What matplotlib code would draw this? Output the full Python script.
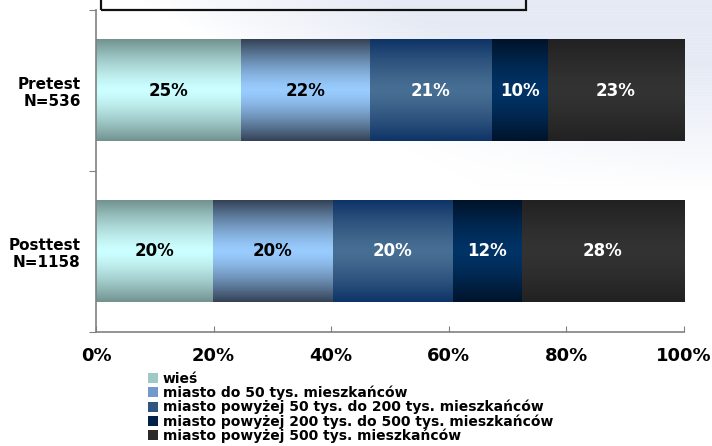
import numpy as np
import matplotlib
matplotlib.use("Agg")
import matplotlib.pyplot as plt
from matplotlib.colors import to_rgb
from matplotlib.patches import Rectangle, Patch

# Data
groups = ["Posttest\nN=1158", "Pretest\nN=536"]
series = [
    "wieś",
    "miasto do 50 tys. mieszkańców",
    "miasto powyżej 50 tys. do 200 tys. mieszkańców",
    "miasto powyżej 200 tys. do 500 tys. mieszkańców",
    "miasto powyżej 500 tys. mieszkańców",
]
posttest = [19.9, 20.4, 20.4, 11.7, 27.6]
pretest = [24.7, 21.9, 20.7, 9.5, 23.2]
xticks = [0, 20, 40, 60, 80, 100]
xticklabels = ["0%", "20%", "40%", "60%", "80%", "100%"]

# Styling: gradient colours for each series (edge -> centre)
edge_colors = ["#729390", "#344256", "#0e3366", "#00132a", "#212121"]
center_colors = ["#ccffff", "#99ccff", "#476e93", "#003366", "#333333"]
label_colors = ["black", "black", "white", "white", "white"]
legend_colors = ["#9fc9c6", "#6f9acb", "#2d5580", "#002248", "#2a2a2a"]

W, H = 712, 446
fig = plt.figure(figsize=(W / 100, H / 100), dpi=100)
fig.patch.set_facecolor("white")

# Soft background swoosh
bg = fig.add_axes([0, 0, 1, 1], zorder=-5)
bg.set_axis_off()
yy, xx = np.mgrid[0:H, 0:W].astype(float)
d = (xx - 230) * 0.55 - (yy - 50) * 1.0
band = np.clip(d / 140.0, 0, 1) * np.clip((190 - yy) / 130.0, 0, 1)
band = np.clip(band, 0, 1) ** 0.9
stripes = 0.9 + 0.1 * (np.sin(yy * 2.2) > 0)
tint = np.array(to_rgb("#e4e9f4"))
img = np.ones((H, W, 3)) - (band * stripes)[..., None] * (1 - tint)[None, None, :]
bg.imshow(img, extent=(0, 1, 0, 1), aspect="auto", origin="upper",
          transform=fig.transFigure, interpolation="bilinear")

# Title frame peeking from the top
fig.patches.append(Rectangle((101 / W, 1 - 10 / H), (526 - 101) / W, 0.05,
                             transform=fig.transFigure, fill=False,
                             edgecolor="#111111", linewidth=1.6, zorder=5))

ax = fig.add_axes([96 / W, 1 - 332 / H, (684 - 96) / W, (332 - 10) / H])
ax.set_facecolor("none")

values = np.array([posttest, pretest])
ypos = np.arange(len(groups))
bar_h = 0.63


def gradient_image(edge, centre, n=128):
    t = np.abs(np.linspace(-1, 1, n))
    t = t ** 1.4
    e = np.array(to_rgb(edge))
    c = np.array(to_rgb(centre))
    col = c[None, :] + (e - c)[None, :] * t[:, None]
    return col[:, None, :]


left = np.zeros(len(groups))
for i, name in enumerate(series):
    vals = values[:, i]
    bars = ax.barh(ypos, vals, left=left, height=bar_h, color="none",
                   edgecolor="none", label=name)
    grad = gradient_image(edge_colors[i], center_colors[i])
    for b, v in zip(bars, vals):
        x0, y0 = b.get_x(), b.get_y()
        ax.imshow(grad, extent=(x0, x0 + b.get_width(), y0, y0 + b.get_height()),
                  aspect="auto", origin="lower", zorder=2, interpolation="bilinear")
        ax.text(x0 + b.get_width() / 2, y0 + b.get_height() / 2, f"{round(v):.0f}%",
                ha="center", va="center", fontsize=12, fontweight="bold",
                color=label_colors[i], zorder=3)
    left = left + vals

ax.set_xlim(0, 100)
ax.set_ylim(-0.5, len(groups) - 0.5)

ax.set_xticks(xticks)
ax.set_xticklabels(xticklabels, fontsize=13, fontweight="bold")
ax.tick_params(axis="x", direction="in", length=4, color="#808080", pad=11)

ax.set_yticks([-0.5, 0.5, 1.5])
ax.set_yticklabels([])
ax.tick_params(axis="y", which="major", direction="out", length=5, color="#808080")
ax.set_yticks(ypos, minor=True)
ax.set_yticklabels(groups, minor=True, fontsize=11, fontweight="bold",
                   multialignment="right")
ax.tick_params(axis="y", which="minor", length=0, pad=11)

for s in ["top", "right"]:
    ax.spines[s].set_visible(False)
for s in ["left", "bottom"]:
    ax.spines[s].set_color("#808080")
    ax.spines[s].set_linewidth(1.2)

handles = [Patch(facecolor=c, edgecolor="none") for c in legend_colors]
leg = fig.legend(handles, series, loc="upper left",
                 bbox_to_anchor=(148 / W, 1 - 372 / H), frameon=False,
                 prop={"size": 10, "weight": "bold"}, handlelength=0.75,
                 handleheight=0.75, handletextpad=0.3, labelspacing=-0.02,
                 borderpad=0, borderaxespad=0)

fig.savefig("out.png", dpi=100)
